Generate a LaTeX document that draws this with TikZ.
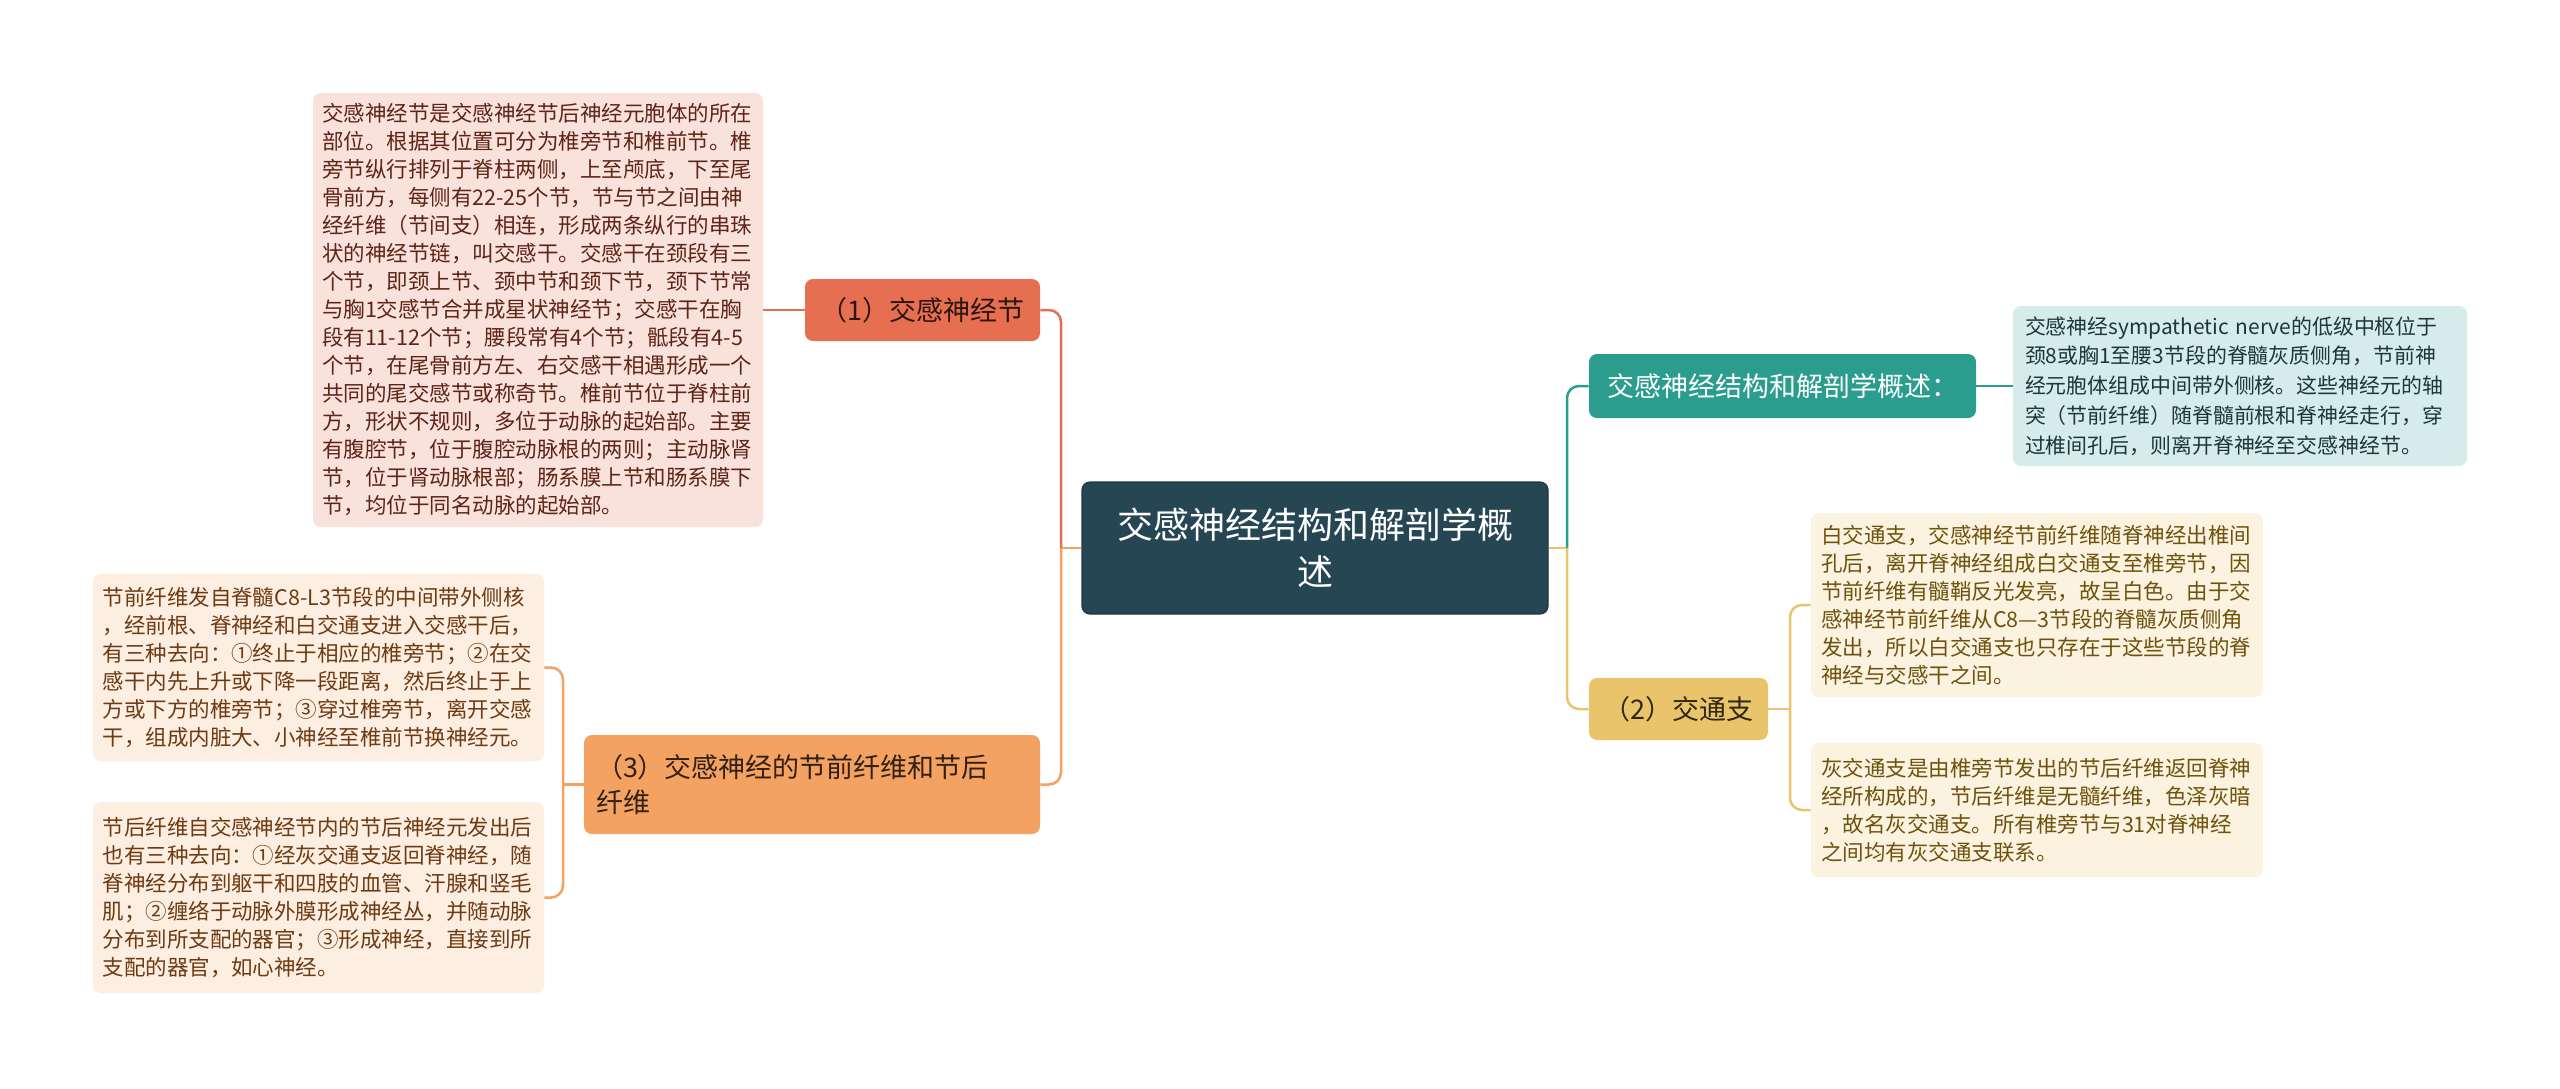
\documentclass[tikz,border=0pt]{standalone}
\usepackage{fontspec}
\setmainfont{Noto Sans CJK SC}
\definecolor{rootc}{HTML}{264653}
\definecolor{tealc}{HTML}{2A9D8F}
\definecolor{yelc}{HTML}{E9C46A}
\definecolor{orc}{HTML}{F4A261}
\definecolor{corc}{HTML}{E76F51}
\definecolor{leafpink}{HTML}{F9E2DC}
\definecolor{leaforange}{HTML}{FDEEE2}
\definecolor{leafteal}{HTML}{D5ECEA}
\definecolor{leafyel}{HTML}{FBF3E0}
\definecolor{txtpink}{HTML}{5E2416}
\definecolor{txtorange}{HTML}{6E3A12}
\definecolor{txtteal}{HTML}{1B3835}
\definecolor{txtyel}{HTML}{6E520E}
\begin{document}
\begin{tikzpicture}[x=0.5pt,y=-0.5pt,
  box/.style={rounded corners=4pt, inner sep=0pt},
  rootbox/.style={box, fill=rootc, draw=rootc!80!black, line width=0.6pt, text=white, align=center,
    font=\fontsize{18}{23.5}\selectfont},
  branchbox/.style={box, font=\fontsize{13.5}{17.5}\selectfont},
  leafbox/.style={box, align=left, font=\fontsize{10.75}{14}\selectfont},
  conn/.style={line width=1.25pt, rounded corners=6pt},
]
\path[fill=white, use as bounding box] (0,0) rectangle (2560,1088);

% root
\node[rootbox, minimum width=233pt, minimum height=66pt] (root) at (1315,548)
  {交感神经结构和解剖学概\\述};

% left branches
\node[branchbox, fill=corc, text=black!80!corc, minimum width=117.5pt, minimum height=31pt] (b1) at (922.5,310) {（1）交感神经节};
\node[branchbox, fill=orc, text=black!80!orc, align=left, text width=216pt, minimum width=228pt, minimum height=49.5pt] (b3) at (812,784.5) {（3）交感神经的节前纤维和节后\\纤维};

% right branches
\node[branchbox, fill=tealc, text=white, minimum width=193.5pt, minimum height=32pt] (r1) at (1782.5,386) {交感神经结构和解剖学概述：};
\node[branchbox, fill=yelc, text=black!80!yelc, minimum width=89.5pt, minimum height=31pt] (r2) at (1678.5,709) {（2）交通支};

% leaves
\node[leafbox, fill=leafpink, text=txtpink, text width=216pt, minimum width=225pt, minimum height=217pt] (leaf1) at (538,310) {%
交感神经节是交感神经节后神经元胞体的所在\\
部位。根据其位置可分为椎旁节和椎前节。椎\\
旁节纵行排列于脊柱两侧，上至颅底，下至尾\\
骨前方，每侧有22-25个节，节与节之间由神\\
经纤维（节间支）相连，形成两条纵行的串珠\\
状的神经节链，叫交感干。交感干在颈段有三\\
个节，即颈上节、颈中节和颈下节，颈下节常\\
与胸1交感节合并成星状神经节；交感干在胸\\
段有11-12个节；腰段常有4个节；骶段有4-5\\
个节，在尾骨前方左、右交感干相遇形成一个\\
共同的尾交感节或称奇节。椎前节位于脊柱前\\
方，形状不规则，多位于动脉的起始部。主要\\
有腹腔节，位于腹腔动脉根的两则；主动脉肾\\
节，位于肾动脉根部；肠系膜上节和肠系膜下\\
节，均位于同名动脉的起始部。};

\node[leafbox, fill=leaforange, text=txtorange, text width=216pt, minimum width=225.5pt, minimum height=93.5pt] (leaf3a) at (318.5,667.5) {%
节前纤维发自脊髓C8-L3节段的中间带外侧核\\
，经前根、脊神经和白交通支进入交感干后，\\
有三种去向：①终止于相应的椎旁节；②在交\\
感干内先上升或下降一段距离，然后终止于上\\
方或下方的椎旁节；③穿过椎旁节，离开交感\\
干，组成内脏大、小神经至椎前节换神经元。};

\node[leafbox, fill=leaforange, text=txtorange, text width=216pt, minimum width=225.5pt, minimum height=95.5pt] (leaf3b) at (318.5,897.5) {%
节后纤维自交感神经节内的节后神经元发出后\\
也有三种去向：①经灰交通支返回脊神经，随\\
脊神经分布到躯干和四肢的血管、汗腺和竖毛\\
肌；②缠络于动脉外膜形成神经丛，并随动脉\\
分布到所支配的器官；③形成神经，直接到所\\
支配的器官，如心神经。};

\node[leafbox, fill=leafteal, text=txtteal, text width=215pt, minimum width=227pt, minimum height=80pt,
  font=\fontsize{10.45}{14.9}\selectfont] (leafr1) at (2240,386) {%
交感神经sympathetic~nerve的低级中枢位于\\
颈8或胸1至腰3节段的脊髓灰质侧角，节前神\\
经元胞体组成中间带外侧核。这些神经元的轴\\
突（节前纤维）随脊髓前根和脊神经走行，穿\\
过椎间孔后，则离开脊神经至交感神经节。};

\node[leafbox, fill=leafyel, text=txtyel, text width=216pt, minimum width=226pt, minimum height=92pt] (leafr2a) at (2037,605) {%
白交通支，交感神经节前纤维随脊神经出椎间\\
孔后，离开脊神经组成白交通支至椎旁节，因\\
节前纤维有髓鞘反光发亮，故呈白色。由于交\\
感神经节前纤维从C8—3节段的脊髓灰质侧角\\
发出，所以白交通支也只存在于这些节段的脊\\
神经与交感干之间。};

\node[leafbox, fill=leafyel, text=txtyel, text width=216pt, minimum width=226pt, minimum height=67pt] (leafr2b) at (2037,810) {%
灰交通支是由椎旁节发出的节后纤维返回脊神\\
经所构成的，节后纤维是无髓纤维，色泽灰暗\\
，故名灰交通支。所有椎旁节与31对脊神经\\
之间均有灰交通支联系。};

% junction coordinates
\coordinate (lj) at (1061,548);
\coordinate (rj) at (1567,548);
\coordinate (b3j) at (563,784.5);
\coordinate (r2j) at (1790,709);

% connectors
\draw[conn, orc] (root.west) -- (lj);
\draw[conn, corc] (lj) |- (b1.east);
\draw[conn, orc] (lj) |- (b3.east);
\draw[conn, yelc] (root.east) -- (rj);
\draw[conn, tealc] (rj) |- (r1.west);
\draw[conn, yelc] (rj) |- (r2.west);

\draw[conn, corc] (b1.west) -- (leaf1.east);
\draw[conn, tealc] (r1.east) -- (leafr1.west);

\draw[conn, orc] (b3.west) -- (b3j);
\draw[conn, orc] (b3j) |- (leaf3a.east);
\draw[conn, orc] (b3j) |- (leaf3b.east);

\draw[conn, yelc] (r2.east) -- (r2j);
\draw[conn, yelc] (r2j) |- (leafr2a.west);
\draw[conn, yelc] (r2j) |- (leafr2b.west);
\end{tikzpicture}
\end{document}
